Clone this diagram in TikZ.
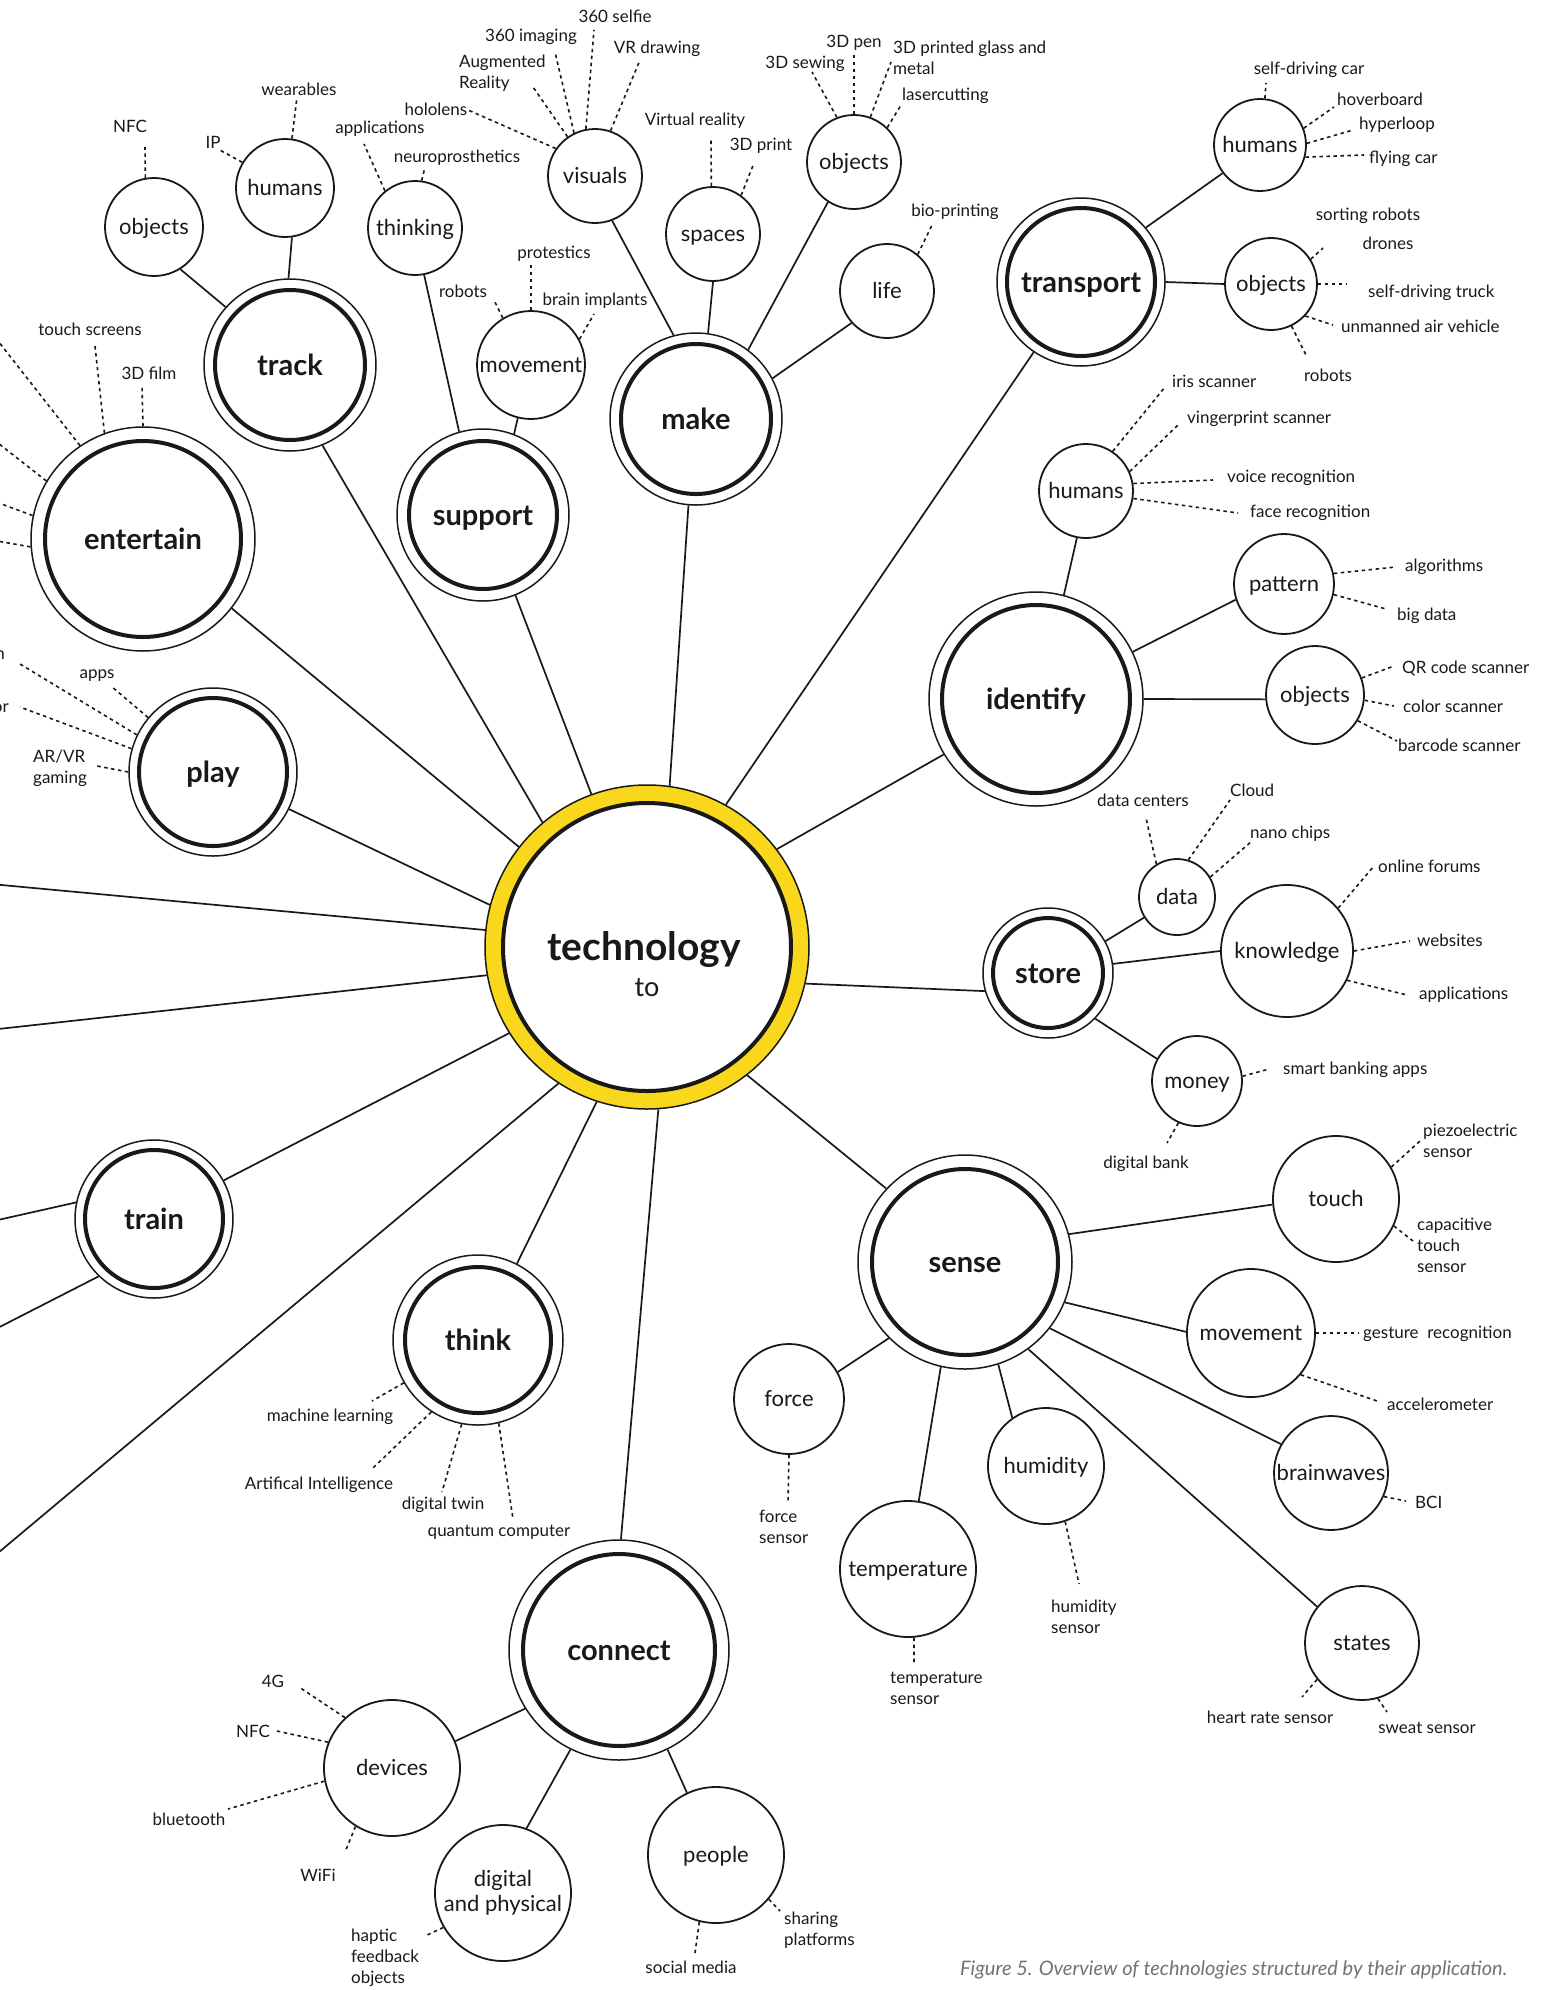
\documentclass[tikz,border=0pt]{standalone}
\usepackage{fontspec}
\setmainfont{Lato}
\definecolor{techyellow}{RGB}{249,215,28}
\definecolor{ink}{RGB}{25,25,25}
\newcommand\tfLab{\fontsize{17}{21}\selectfont}
\newcommand\tfSub{\fontsize{22}{25}\selectfont}
\newcommand\tfHub{\fontsize{29}{32}\selectfont\bfseries}
\newcommand\tfTech{\fontsize{39}{41}\selectfont\bfseries}
\newcommand\tfTo{\fontsize{27}{30}\selectfont}
\newcommand\tfCap{\fontsize{20}{23}\selectfont\itshape}
% hub: outer thin circle as the node, inner thick ring drawn on top
\newcommand\hubnode[6]{%
  \node[hub, minimum size=#4*2pt] (#1) at (#2,#3) {#6};
  \draw[hubring] (#1.center) circle[radius=#5pt];}
% dotted connector from a circle to the free end near its label
\newcommand\dotlink[3]{\coordinate (#1) at (#2); \draw[dl] (#3) -- (#1);}
\tikzset{
  hub/.style={circle, draw=ink, line width=1.5pt, fill=white, inner sep=0pt,
    font=\tfHub, text=ink, text height=20pt, text depth=0pt},
  hubring/.style={draw=ink, line width=4pt},
  subbase/.style={circle, draw=ink, line width=1.8pt, fill=white, inner sep=0pt,
    font=\tfSub, text=ink, align=center},
  sub/.style={subbase, text height=15pt, text depth=0pt},
  lab/.style={inner sep=0pt, font=\tfLab, text=ink, text height=12pt, text depth=0pt},
  labm/.style={inner sep=0pt, font=\tfLab, text=ink, align=left},
  link/.style={draw=ink, line width=1.7pt},
  dl/.style={draw=ink, line width=1.6pt, dash pattern=on 3.5pt off 3.5pt},
}
\begin{document}
\begin{tikzpicture}[x=1pt, y=-1pt]
\fill[white] (0,0) rectangle (1546,1990);
\useasboundingbox (0,0) rectangle (1546,1990);

% ---------- centre ----------
\node[circle, draw=ink, line width=1.5pt, fill=techyellow, minimum size=324pt, inner sep=0pt] (tech) at (647,947) {};
\draw[draw=ink, line width=4pt, fill=white] (tech.center) circle[radius=144pt];
\node[font=\tfTech, text=ink, anchor=base, inner sep=0pt] (techname) at (644,960) {technology};
\node[font=\tfTo, text=ink, anchor=base, inner sep=0pt] (techto) at (647,996) {to};

% ---------- hubs ----------
\hubnode{track}{290}{365}{86}{75}{track}
\hubnode{entertain}{143}{539}{112}{98}{entertain}
\hubnode{support}{483}{515}{86}{74}{support}
\hubnode{make}{696}{419}{86}{75}{make}
\hubnode{transport}{1081}{282}{84}{74}{transport}
\hubnode{identify}{1036}{699}{107}{94}{identify}
\hubnode{store}{1048}{973}{65}{55}{store}
\hubnode{sense}{965}{1262}{107}{93}{sense}
\hubnode{connect}{619}{1650}{110}{96}{connect}
\hubnode{think}{478}{1340}{85}{73}{think}
\hubnode{train}{154}{1219}{79}{69}{train}
\hubnode{play}{213}{772}{84}{74}{play}

% ---------- sub topics ----------
\node[sub, minimum size=98pt] (objT) at (154,227) {objects};
\node[sub, minimum size=98pt] (humT) at (285,188) {humans};
\node[sub, minimum size=94pt] (thinking) at (415,228) {thinking};
\node[sub, minimum size=108pt] (movS) at (531,365) {movement};
\node[sub, minimum size=94pt] (visuals) at (595,176) {visuals};
\node[sub, minimum size=94pt] (spaces) at (713,234) {spaces};
\node[sub, minimum size=94pt] (objM) at (854,162) {objects};
\node[sub, minimum size=94pt] (life) at (887,291) {life};
\node[sub, minimum size=92pt] (humTr) at (1260,145) {humans};
\node[sub, minimum size=92pt] (objTr) at (1271,284) {objects};
\node[sub, minimum size=94pt] (humI) at (1086,491) {humans};
\node[sub, minimum size=100pt] (pattern) at (1284,584) {pattern};
\node[sub, minimum size=98pt] (objI) at (1315,695) {objects};
\node[sub, minimum size=76pt] (data) at (1177,897) {data};
\node[sub, minimum size=132pt] (knowledge) at (1287,951) {knowledge};
\node[sub, minimum size=90pt] (money) at (1197,1081) {money};
\node[sub, minimum size=126pt] (touch) at (1336,1199) {touch};
\node[sub, minimum size=128pt] (movSe) at (1251,1333) {movement};
\node[sub, minimum size=114pt] (brainwaves) at (1331,1473) {brainwaves};
\node[sub, minimum size=116pt] (humidity) at (1046,1466) {humidity};
\node[sub, minimum size=114pt] (states) at (1362,1643) {states};
\node[sub, minimum size=110pt] (force) at (789,1399) {force};
\node[sub, minimum size=136pt] (temperature) at (908,1569) {temperature};
\node[sub, minimum size=136pt] (devices) at (392,1768) {devices};
\node[subbase, minimum size=136pt] (dp) at (503,1893) {digital\\and physical};
\node[sub, minimum size=136pt] (people) at (716,1855) {people};

% ---------- free ends beyond the left edge ----------
\coordinate (offA) at (-20,883);
\coordinate (offB) at (-20,1031);
\coordinate (offC) at (-20,1568);
\coordinate (offD) at (-20,1224);
\coordinate (offE) at (-20,1337);

% ---------- solid connectors ----------
\draw[link] (tech.130) -- (track.-68);
\draw[link] (tech.142) -- (entertain.-38);
\draw[link] (tech.165) -- (play.-26);
\draw[link] (tech.174) -- (offA);
\draw[link] (tech.190) -- (offB);
\draw[link] (tech.212) -- (train.29);
\draw[link] (tech.237) -- (offC);
\draw[link] (tech.252) -- (think.63);
\draw[link] (tech.274) -- (connect.89);
\draw[link] (tech.308) -- (sense.137);
\draw[link] (tech.347) -- (store.196);
\draw[link] (tech.37) -- (identify.211);
\draw[link] (tech.61) -- (transport.236);
\draw[link] (tech.82) -- (make.265);
\draw[link] (tech.110) -- (support.-68);
\draw[link] (train.168) -- (offD);
\draw[link] (train.226) -- (offE);

\draw[link] (track.138) -- (objT.-58);
\draw[link] (track.91) -- (humT.-82);
\draw[link] (support.106) -- (thinking.-79);
\draw[link] (support.69) -- (movS.256);
\draw[link] (make.105) -- (visuals.-69);
\draw[link] (make.82) -- (spaces.-90);
\draw[link] (make.53) -- (objM.237);
\draw[link] (make.28) -- (life.222);
\draw[link] (transport.40) -- (humTr.217);
\draw[link] (transport.0) -- (objTr.180);
\draw[link] (identify.75) -- (humI.259);
\draw[link] (identify.26) -- (pattern.198);
\draw[link] (identify.0) -- (objI.185);
\draw[link] (store.29) -- (data.212);
\draw[link] (store.8) -- (knowledge.180);
\draw[link] (store.-44) -- (money.151);
\draw[link] (sense.15) -- (touch.185);
\draw[link] (sense.-22) -- (movSe.179);
\draw[link] (sense.-38) -- (brainwaves.150);
\draw[link] (sense.-54) -- (states.141);
\draw[link] (sense.-72) -- (humidity.125);
\draw[link] (sense.257) -- (temperature.81);
\draw[link] (sense.225) -- (force.29);
\draw[link] (connect.212) -- (devices.23);
\draw[link] (connect.244) -- (dp.70);
\draw[link] (connect.-64) -- (people.115);

% ---------- dotted connectors ----------
\dotlink{e1}{145,147}{objT.100}
\dotlink{e2}{218,149}{humT.149}
\dotlink{e3}{297,97}{humT.82}
\dotlink{e4}{364,144}{thinking.129}
\dotlink{e5}{425,167}{thinking.82}
\dotlink{e6}{95,346}{entertain.110}
\dotlink{e7}{142,386}{entertain.90}
\dotlink{e8}{-20,318}{entertain.124}
\dotlink{e9}{-20,429}{entertain.149}
\dotlink{e10}{-20,496}{entertain.168}
\dotlink{e11}{-20,538}{entertain.184}
\dotlink{e12}{111,686}{play.140}
\dotlink{e13}{20,664}{play.154}
\dotlink{e14}{20,707}{play.164}
\dotlink{e15}{97,766}{play.180}
\dotlink{e16}{494,300}{movS.121}
\dotlink{e17}{531,265}{movS.90}
\dotlink{e18}{594,314}{movS.28}
\dotlink{e19}{468,110}{visuals.145}
\dotlink{e20}{533,87}{visuals.125}
\dotlink{e21}{555,52}{visuals.116}
\dotlink{e22}{594,30}{visuals.101}
\dotlink{e23}{640,60}{visuals.71}
\dotlink{e24}{711,139}{spaces.92}
\dotlink{e25}{754,163}{spaces.54}
\dotlink{e26}{812,72}{objM.111}
\dotlink{e27}{854,55}{objM.90}
\dotlink{e28}{891,62}{objM.70}
\dotlink{e29}{901,105}{objM.46}
\dotlink{e30}{933,223}{life.50}
\dotlink{e31}{1266,83}{humTr.84}
\dotlink{e32}{1334,107}{humTr.21}
\dotlink{e33}{1353,130}{humTr.2}
\dotlink{e34}{1364,155}{humTr.-15}
\dotlink{e35}{1323,248}{objTr.32}
\dotlink{e36}{1347,284}{objTr.0}
\dotlink{e37}{1333,325}{objTr.-43}
\dotlink{e38}{1307,357}{objTr.-64}
\dotlink{e39}{1165,387}{humI.56}
\dotlink{e40}{1178,425}{humI.24}
\dotlink{e41}{1213,480}{humI.9}
\dotlink{e42}{1238,513}{humI.-9}
\dotlink{e43}{1396,567}{pattern.12}
\dotlink{e44}{1386,609}{pattern.-12}
\dotlink{e45}{1394,666}{objI.20}
\dotlink{e46}{1394,706}{objI.-6}
\dotlink{e47}{1397,741}{objI.-31}
\dotlink{e48}{1146,818}{data.122}
\dotlink{e49}{1230,800}{data.73}
\dotlink{e50}{1252,841}{data.31}
\dotlink{e51}{1374,866}{knowledge.40}
\dotlink{e52}{1410,941}{knowledge.0}
\dotlink{e53}{1407,995}{knowledge.-26}
\dotlink{e54}{1269,1069}{money.6}
\dotlink{e55}{1167,1143}{money.246}
\dotlink{e56}{1420,1141}{touch.30}
\dotlink{e57}{1413,1241}{touch.-25}
\dotlink{e58}{1358,1333}{movSe.0}
\dotlink{e59}{1377,1401}{movSe.-40}
\dotlink{e60}{1406,1501}{brainwaves.-24}
\dotlink{e61}{1079,1584}{humidity.-71}
\dotlink{e62}{1302,1697}{states.219}
\dotlink{e63}{1387,1712}{states.-74}
\dotlink{e64}{788,1502}{force.270}
\dotlink{e65}{914,1662}{temperature.275}
\dotlink{e66}{372,1401}{think.210}
\dotlink{e67}{373,1468}{think.237}
\dotlink{e68}{442,1492}{think.259}
\dotlink{e69}{513,1519}{think.-76}
\dotlink{e70}{299,1687}{devices.133}
\dotlink{e71}{277,1731}{devices.158}
\dotlink{e72}{228,1809}{devices.191}
\dotlink{e73}{345,1852}{devices.238}
\dotlink{e74}{425,1936}{dp.210}
\dotlink{e75}{780,1911}{people.-40}
\dotlink{e76}{695,1953}{people.256}

% ---------- labels ----------
\node[lab] (tNFC) at (130,126) {NFC};
\node[lab] (tIP) at (213,142) {IP};
\node[lab] (twear) at (299,89) {wearables};
\node[lab] (tappl) at (380,127) {applications};
\node[lab] (tneuro) at (457,156) {neuroprosthetics};
\node[lab] (tholo) at (436,109) {hololens};
\node[labm, anchor=west] (tAR) at (459,73) {Augmented\\Reality};
\node[lab] (t360i) at (531,35) {360 imaging};
\node[lab] (t360s) at (615,16) {360 selfie};
\node[lab] (tVRd) at (657,47) {VR drawing};
\node[lab] (tVR) at (695,119) {Virtual reality};
\node[lab] (t3Dp) at (761,144) {3D print};
\node[lab] (t3Ds) at (805,62) {3D sewing};
\node[lab] (t3Dpen) at (854,41) {3D pen};
\node[labm, anchor=west] (t3Dg) at (893,58) {3D printed glass and\\metal};
\node[lab, anchor=west] (tlaser) at (902,94) {lasercutting};
\node[lab] (tbio) at (955,210) {bio-printing};
\node[lab] (tprot) at (554,252) {protestics};
\node[lab] (tbrain) at (595,299) {brain implants};
\node[lab] (trobS) at (463,291) {robots};
\node[lab] (ttouchs) at (90,329) {touch screens};
\node[lab] (t3Df) at (149,373) {3D film};
\node[lab] (tapps) at (97,672) {apps};
\node[lab, anchor=east] (tcutn) at (5,653) {n};
\node[lab, anchor=east] (tcutor) at (9,706) {or};
\node[labm, anchor=west] (tARVR) at (33,768) {AR/VR\\gaming};
\node[lab] (tsdc) at (1309,68) {self-driving car};
\node[lab, anchor=west] (thover) at (1337,99) {hoverboard};
\node[lab, anchor=west] (thyper) at (1359,123) {hyperloop};
\node[lab, anchor=west] (tfly) at (1369,157) {flying car};
\node[lab] (tsort) at (1368,214) {sorting robots};
\node[lab] (tdrones) at (1388,243) {drones};
\node[lab, anchor=west] (tsdt) at (1368,291) {self-driving truck};
\node[lab, anchor=west] (tuav) at (1341,326) {unmanned air vehicle};
\node[lab] (trobT) at (1328,375) {robots};
\node[lab, anchor=west] (tiris) at (1172,381) {iris scanner};
\node[lab, anchor=west] (tving) at (1187,417) {vingerprint scanner};
\node[lab, anchor=west] (tvoice) at (1227,476) {voice recognition};
\node[lab, anchor=west] (tface) at (1250,511) {face recognition};
\node[lab, anchor=west] (talgo) at (1405,565) {algorithms};
\node[lab, anchor=west] (tbig) at (1397,614) {big data};
\node[lab, anchor=west] (tQR) at (1402,667) {QR code scanner};
\node[lab, anchor=west] (tcolor) at (1403,706) {color scanner};
\node[lab, anchor=west] (tbar) at (1398,745) {barcode scanner};
\node[lab] (tdc) at (1143,800) {data centers};
\node[lab, anchor=west] (tcloud) at (1230,790) {Cloud};
\node[lab, anchor=west] (tnano) at (1250,832) {nano chips};
\node[lab, anchor=west] (tforum) at (1378,866) {online forums};
\node[lab, anchor=west] (tweb) at (1417,940) {websites};
\node[lab, anchor=west] (tappK) at (1419,993) {applications};
\node[lab, anchor=west] (tbank) at (1283,1068) {smart banking apps};
\node[lab] (tdbank) at (1146,1162) {digital bank};
\node[labm, anchor=west] (tpiezo) at (1423,1141) {piezoelectric\\sensor};
\node[labm, anchor=west] (tcap) at (1417,1245) {capacitive\\touch\\sensor};
\node[lab, anchor=west] (tgest) at (1363,1332) {gesture\ \ recognition};
\node[lab, anchor=west] (taccel) at (1387,1404) {accelerometer};
\node[lab, anchor=west] (tBCI) at (1415,1502) {BCI};
\node[labm, anchor=west] (thum) at (1051,1617) {humidity\\sensor};
\node[lab] (theart) at (1270,1717) {heart rate sensor};
\node[lab] (tsweat) at (1427,1727) {sweat sensor};
\node[labm, anchor=west] (tforce) at (759,1527) {force\\sensor};
\node[labm, anchor=west] (ttemp) at (890,1688) {temperature\\sensor};
\node[lab] (tml) at (330,1415) {machine learning};
\node[lab] (tAI) at (319,1483) {Artifical Intelligence};
\node[lab] (ttwin) at (443,1503) {digital twin};
\node[lab] (tquant) at (499,1530) {quantum computer};
\node[lab] (t4G) at (273,1681) {4G};
\node[lab] (tNFCd) at (253,1731) {NFC};
\node[lab] (tblue) at (189,1819) {bluetooth};
\node[lab] (twifi) at (318,1875) {WiFi};
\node[labm, anchor=west] (thaptic) at (351,1958) {haptic\\feedback\\objects};
\node[labm, anchor=west] (tshare) at (784,1930) {sharing\\platforms};
\node[lab] (tsocial) at (691,1967) {social media};

\node[anchor=west, inner sep=0pt, font=\tfCap, text=black!55] (caption) at (960,1970)
  {Figure 5. Overview of technologies structured by their application.};
\end{tikzpicture}
\end{document}
